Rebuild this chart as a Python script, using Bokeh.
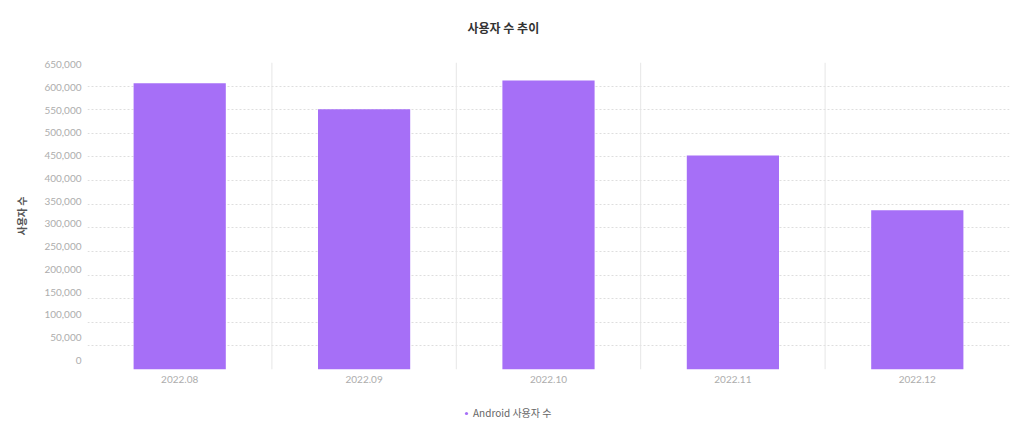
from bokeh.plotting import figure
from bokeh.layouts import column
from bokeh.models import (NumeralTickFormatter, Span, Legend, LegendItem,
                          FixedTicker, ColumnDataSource, Range1d, LinearAxis,
                          Label)
from bokeh.embed import file_html
from bokeh.resources import INLINE

months = ["2022.08", "2022.09", "2022.10", "2022.11", "2022.12"]
android_users = [606000, 551000, 612000, 453000, 337000]
y_ticks = list(range(0, 650001, 50000))

title_text = "사용자 수 추이"
y_label = "사용자 수"
series_name = "Android 사용자 수"

BAR = "#A66FF7"
TICK = "#adadad"


def strip(h):
    f = figure(width=1024, height=h, output_backend="svg",
               toolbar_location=None,
               x_range=Range1d(87, 1009), y_range=Range1d(0, h),
               x_axis_location=None, y_axis_location=None,
               min_border_left=87, min_border_right=15, min_border_top=0,
               min_border_bottom=0)
    f.grid.visible = False
    f.outline_line_color = None
    return f


# title strip
tf = strip(40)
tf.add_layout(Label(x=467, y=13, text=title_text, text_align="left",
                    text_baseline="middle", text_font="Noto Sans CJK KR",
                    text_font_size="12px", text_font_style="bold",
                    text_color="#333333"))

src = ColumnDataSource(dict(month=months, users=android_users))

p = figure(x_range=months, y_range=(0, 650000), width=1024, height=360,
           output_backend="svg", toolbar_location=None,
           min_border_left=87, min_border_right=15, min_border_top=22,
           min_border_bottom=31, y_axis_location=None)

p.vbar(x="month", top="users", width=0.5, source=src,
       fill_color=BAR, line_color=None)

# vertical separators between categories
for i in range(1, len(months)):
    p.add_layout(Span(location=i, dimension="height", line_color="#e6e6e6",
                      line_width=1))

p.xgrid.visible = False
p.ygrid.ticker = FixedTicker(ticks=y_ticks)
p.ygrid.grid_line_color = "#dedede"
p.ygrid.grid_line_dash = "2 2"

# label axis: the reference's tick labels sit slightly compressed vs. gridlines
p.extra_y_ranges = {"labels": Range1d(-19764, 654391)}
yax = LinearAxis(y_range_name="labels", ticker=FixedTicker(ticks=y_ticks),
                 formatter=NumeralTickFormatter(format="0,0"))
yax.axis_label = y_label
yax.axis_label_text_font = "Noto Sans CJK KR"
yax.axis_label_text_font_size = "10px"
yax.axis_label_text_font_style = "bold"
yax.axis_label_text_color = "#555555"
yax.axis_label_standoff = 12
p.add_layout(yax, "left")

for ax in (p.xaxis[0], yax):
    ax.axis_line_color = None
    ax.major_tick_line_color = None
    ax.minor_tick_line_color = None
    ax.major_label_text_font = "Lato"
    ax.major_label_text_font_size = "10px"
    ax.major_label_text_color = TICK
p.xaxis.major_label_standoff = 0
yax.major_label_standoff = 0

p.outline_line_color = None

# legend strip below the chart (proxy point lies outside the strip's range)
lf = strip(26)
dot = lf.scatter(x=[0], y=[-100], marker="circle", size=9,
                 fill_color=BAR, line_color=None)
legend = Legend(items=[LegendItem(label=series_name, renderers=[dot])],
                location=(375, 6), orientation="horizontal",
                glyph_width=8, glyph_height=12, label_height=12,
                label_standoff=3, padding=0, margin=0,
                border_line_color=None, background_fill_alpha=0,
                label_text_font="Noto Sans CJK KR", label_text_font_size="10px",
                label_text_color="#666666")
lf.add_layout(legend, "center")

layout = column(tf, p, lf, spacing=0)
open("out.html", "w").write(file_html(layout, INLINE))
